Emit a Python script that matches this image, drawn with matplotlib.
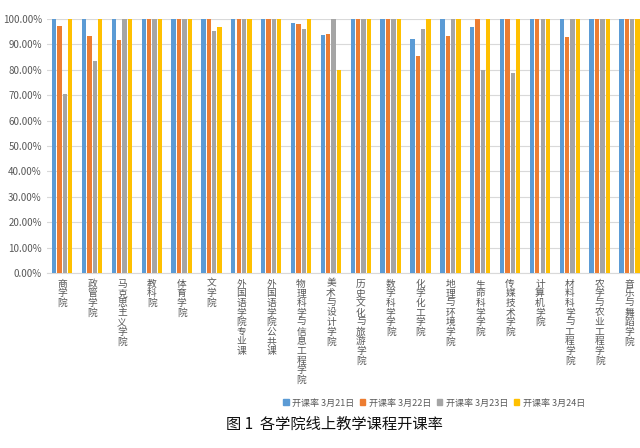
import matplotlib
matplotlib.use("Agg")
import matplotlib.pyplot as plt
import numpy as np
from matplotlib.patches import Patch
from matplotlib.ticker import PercentFormatter

plt.rcParams['font.family'] = ['Noto Sans CJK SC', 'DejaVu Sans']

colleges = ["商学院", "政管学院", "马克思主义学院", "教科院", "体育学院", "文学院",
            "外国语学院专业课", "外国语学院公共课", "物理科学与信息工程学院", "美术与设计学院",
            "历史文化与旅游学院", "数学科学学院", "化学化工学院", "地理与环境学院", "生命科学学院",
            "传媒技术学院", "计算机学院", "材料科学与工程学院", "农学与农业工程学院", "音乐与舞蹈学院"]

series_names = ["开课率 3月21日", "开课率 3月22日", "开课率 3月23日", "开课率 3月24日"]

rate_0321 = [100, 100, 100, 100, 100, 100, 100, 100, 98.2, 93.7,
             100, 100, 91.9, 100, 96.7, 100, 100, 100, 100, 100]
rate_0322 = [97.1, 93.3, 91.5, 100, 100, 100, 100, 100, 97.9, 94.1,
             100, 100, 85.2, 93.3, 100, 100, 100, 92.9, 100, 100]
rate_0323 = [70.5, 83.3, 100, 100, 100, 95.0, 100, 100, 95.8, 100,
             100, 100, 95.8, 100, 80.0, 78.6, 100, 100, 100, 100]
rate_0324 = [100, 100, 100, 100, 100, 96.6, 100, 100, 100, 80.0,
             100, 100, 100, 100, 100, 100, 100, 100, 100, 100]

colors = ["#5B9BD5", "#ED7D31", "#A5A5A5", "#FFC000"]

fig = plt.figure(figsize=(6.4, 4.48), dpi=100)
ax = fig.add_axes([47.3 / 640, 1 - 273.3 / 448, 597.2 / 640, (273.3 - 18.7) / 448])

x = np.arange(len(colleges))
step = 0.18
width = 0.145
all_rates = [rate_0321, rate_0322, rate_0323, rate_0324]
for i, vals in enumerate(all_rates):
    ax.bar(x + (i - 1.5) * step, vals, width=width, color=colors[i], zorder=3)

ax.set_xlim(-0.5, len(colleges) - 0.5)
ax.set_ylim(0, 100)
ax.set_yticks(np.arange(0, 101, 10))
ax.yaxis.set_major_formatter(PercentFormatter(decimals=2))
ax.grid(axis='y', color='#D9D9D9', lw=0.8, zorder=0)
for s in ["top", "right", "left"]:
    ax.spines[s].set_visible(False)
ax.spines["bottom"].set_color('#D9D9D9')
ax.spines["bottom"].set_linewidth(0.8)

ax.set_xticks(x)
ax.set_xticklabels(["\n".join(c) for c in colleges], va='top', linespacing=0.95,
                   fontsize=7, color='#595959')
ax.tick_params(axis='x', length=0, pad=4)
ax.tick_params(axis='y', length=0, pad=4, labelsize=7, labelcolor='#595959')

handles = [Patch(color=c) for c in colors]
fig.legend(handles, series_names, loc='center', bbox_to_anchor=(434 / 640, 1 - 403 / 448),
           ncol=4, frameon=False, fontsize=6.5, labelcolor='#595959',
           handlelength=0.6, handleheight=0.6, handletextpad=0.4, columnspacing=0.6)

fig.text(334 / 640, 1 - 424 / 448, "图 1  各学院线上教学课程开课率", ha='center', va='center',
         fontsize=11, color='#111111')

fig.savefig("out.png", dpi=100)
